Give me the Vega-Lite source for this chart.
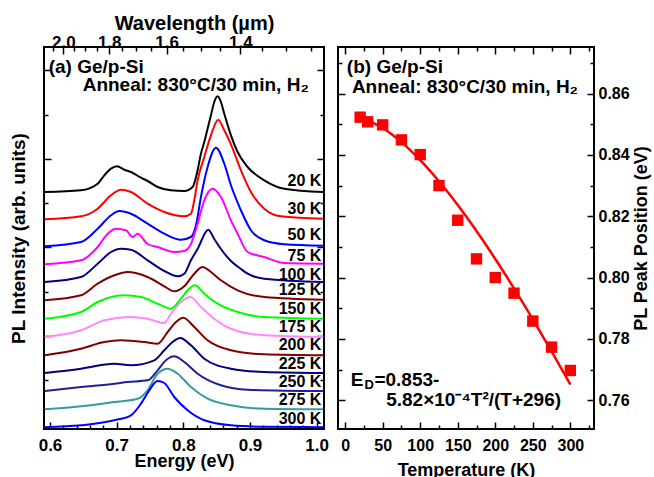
{
  "$schema": "https://vega.github.io/schema/vega-lite/v6.json",
  "padding": {"left": 8, "top": 12, "right": 0, "bottom": 0},
  "background": "white",
  "config": {
    "font": "Liberation Sans",
    "view": {"stroke": "black", "strokeWidth": 2},
    "axis": {"labelFont": "Liberation Sans", "labelFontWeight": "bold", "labelFontSize": 17, "labelColor": "black", "titleFont": "Liberation Sans", "titleFontWeight": "bold", "titleFontSize": 18, "titleColor": "black", "tickColor": "black", "tickWidth": 1.5, "domain": false, "grid": false},
    "text": {"font": "Liberation Sans", "fontWeight": "bold", "color": "black"}
  },
  "datasets": {
    "spectra": [
      {"s":"20 K","E":0.592,"v":237},{"s":"20 K","E":0.6465,"v":238.7},{"s":"20 K","E":0.6715,"v":245.3},{"s":"20 K","E":0.6815,"v":253.7},{"s":"20 K","E":0.6915,"v":260.3},{"s":"20 K","E":0.7004,"v":262.7},{"s":"20 K","E":0.7115,"v":259.3},{"s":"20 K","E":0.7214,"v":257},{"s":"20 K","E":0.7364,"v":251.3},{"s":"20 K","E":0.7464,"v":248},{"s":"20 K","E":0.7614,"v":242},{"s":"20 K","E":0.7814,"v":238.7},{"s":"20 K","E":0.8014,"v":238},{"s":"20 K","E":0.8139,"v":242},{"s":"20 K","E":0.8214,"v":258.7},{"s":"20 K","E":0.8264,"v":275.3},{"s":"20 K","E":0.8314,"v":287},{"s":"20 K","E":0.8364,"v":300.3},{"s":"20 K","E":0.8414,"v":313.7},{"s":"20 K","E":0.8464,"v":327},{"s":"20 K","E":0.8514,"v":332.7},{"s":"20 K","E":0.8564,"v":327},{"s":"20 K","E":0.8614,"v":315.3},{"s":"20 K","E":0.8714,"v":293.7},{"s":"20 K","E":0.8814,"v":277},{"s":"20 K","E":0.8964,"v":262},{"s":"20 K","E":0.9214,"v":248.7},{"s":"20 K","E":0.9513,"v":240.3},{"s":"20 K","E":1.010,"v":237},
      {"s":"30 K","E":0.592,"v":209.7},{"s":"30 K","E":0.6465,"v":212.7},{"s":"30 K","E":0.6715,"v":220.3},{"s":"30 K","E":0.6915,"v":233.7},{"s":"30 K","E":0.7065,"v":239.3},{"s":"30 K","E":0.7214,"v":237},{"s":"30 K","E":0.7464,"v":225.3},{"s":"30 K","E":0.7714,"v":217},{"s":"30 K","E":0.8014,"v":212.7},{"s":"30 K","E":0.8114,"v":215.3},{"s":"30 K","E":0.8164,"v":228.7},{"s":"30 K","E":0.8214,"v":248.7},{"s":"30 K","E":0.8314,"v":272},{"s":"30 K","E":0.8414,"v":293.7},{"s":"30 K","E":0.8524,"v":309.3},{"s":"30 K","E":0.8614,"v":298.7},{"s":"30 K","E":0.8714,"v":284.7},{"s":"30 K","E":0.8864,"v":258.7},{"s":"30 K","E":0.9014,"v":237},{"s":"30 K","E":0.9214,"v":220.3},{"s":"30 K","E":0.9463,"v":212.7},{"s":"30 K","E":1.010,"v":210.3},
      {"s":"50 K","E":0.592,"v":182.7},{"s":"50 K","E":0.6465,"v":187},{"s":"50 K","E":0.6715,"v":200.3},{"s":"50 K","E":0.6915,"v":213.7},{"s":"50 K","E":0.704,"v":218},{"s":"50 K","E":0.7214,"v":215.3},{"s":"50 K","E":0.7464,"v":205.3},{"s":"50 K","E":0.7714,"v":195.3},{"s":"50 K","E":0.7964,"v":189.3},{"s":"50 K","E":0.8114,"v":192},{"s":"50 K","E":0.8189,"v":203.7},{"s":"50 K","E":0.8264,"v":232},{"s":"50 K","E":0.8364,"v":262},{"s":"50 K","E":0.8489,"v":281.3},{"s":"50 K","E":0.8614,"v":265.3},{"s":"50 K","E":0.8714,"v":243.7},{"s":"50 K","E":0.8864,"v":218.7},{"s":"50 K","E":0.9014,"v":198.7},{"s":"50 K","E":0.9214,"v":188.7},{"s":"50 K","E":0.9513,"v":184.7},{"s":"50 K","E":1.010,"v":183.3},
      {"s":"75 K","E":0.592,"v":164.7},{"s":"75 K","E":0.6465,"v":168.7},{"s":"75 K","E":0.6715,"v":182},{"s":"75 K","E":0.6865,"v":195.3},{"s":"75 K","E":0.699,"v":200.3},{"s":"75 K","E":0.714,"v":198.7},{"s":"75 K","E":0.7239,"v":192},{"s":"75 K","E":0.7314,"v":195.3},{"s":"75 K","E":0.7464,"v":185},{"s":"75 K","E":0.7614,"v":182},{"s":"75 K","E":0.7864,"v":177},{"s":"75 K","E":0.8014,"v":178},{"s":"75 K","E":0.8114,"v":185},{"s":"75 K","E":0.8214,"v":205.3},{"s":"75 K","E":0.8314,"v":228.7},{"s":"75 K","E":0.8439,"v":240.3},{"s":"75 K","E":0.8564,"v":232},{"s":"75 K","E":0.8714,"v":208.7},{"s":"75 K","E":0.8814,"v":195.3},{"s":"75 K","E":0.8964,"v":177},{"s":"75 K","E":0.9214,"v":172},{"s":"75 K","E":0.9513,"v":166},{"s":"75 K","E":1.010,"v":165.3},
      {"s":"100 K","E":0.592,"v":147},{"s":"100 K","E":0.6465,"v":152},{"s":"100 K","E":0.6715,"v":165.3},{"s":"100 K","E":0.6915,"v":177},{"s":"100 K","E":0.7065,"v":180.3},{"s":"100 K","E":0.7214,"v":179.3},{"s":"100 K","E":0.7464,"v":168.7},{"s":"100 K","E":0.7714,"v":158},{"s":"100 K","E":0.7914,"v":152.7},{"s":"100 K","E":0.8014,"v":155.3},{"s":"100 K","E":0.8114,"v":168.7},{"s":"100 K","E":0.8214,"v":180},{"s":"100 K","E":0.8374,"v":199.3},{"s":"100 K","E":0.8464,"v":190},{"s":"100 K","E":0.8564,"v":180},{"s":"100 K","E":0.8714,"v":168},{"s":"100 K","E":0.8864,"v":160},{"s":"100 K","E":0.8964,"v":155.3},{"s":"100 K","E":0.9214,"v":150.3},{"s":"100 K","E":1.010,"v":147},
      {"s":"125 K","E":0.592,"v":128.7},{"s":"125 K","E":0.6465,"v":133.7},{"s":"125 K","E":0.6715,"v":145.3},{"s":"125 K","E":0.6965,"v":153.7},{"s":"125 K","E":0.7164,"v":157},{"s":"125 K","E":0.7464,"v":152},{"s":"125 K","E":0.7714,"v":142.7},{"s":"125 K","E":0.7864,"v":137.7},{"s":"125 K","E":0.8014,"v":142.7},{"s":"125 K","E":0.8164,"v":155.3},{"s":"125 K","E":0.8289,"v":162},{"s":"125 K","E":0.8414,"v":157},{"s":"125 K","E":0.8564,"v":148.7},{"s":"125 K","E":0.8814,"v":138.7},{"s":"125 K","E":0.9214,"v":132},{"s":"125 K","E":1.010,"v":129.3},
      {"s":"150 K","E":0.592,"v":110.3},{"s":"150 K","E":0.6465,"v":117},{"s":"150 K","E":0.6715,"v":127},{"s":"150 K","E":0.6965,"v":132.7},{"s":"150 K","E":0.7115,"v":133.7},{"s":"150 K","E":0.7364,"v":132},{"s":"150 K","E":0.7614,"v":125.3},{"s":"150 K","E":0.7814,"v":120.3},{"s":"150 K","E":0.7964,"v":130.3},{"s":"150 K","E":0.8064,"v":138.7},{"s":"150 K","E":0.8174,"v":143.7},{"s":"150 K","E":0.8314,"v":135.3},{"s":"150 K","E":0.8514,"v":125.3},{"s":"150 K","E":0.8814,"v":117},{"s":"150 K","E":0.9214,"v":112},{"s":"150 K","E":1.010,"v":110.3},
      {"s":"175 K","E":0.592,"v":92},{"s":"175 K","E":0.6465,"v":98.7},{"s":"175 K","E":0.6815,"v":108.7},{"s":"175 K","E":0.7214,"v":112},{"s":"175 K","E":0.7464,"v":110.3},{"s":"175 K","E":0.7714,"v":106},{"s":"175 K","E":0.7814,"v":115.3},{"s":"175 K","E":0.7964,"v":127},{"s":"175 K","E":0.8104,"v":132},{"s":"175 K","E":0.8264,"v":122},{"s":"175 K","E":0.8464,"v":110.3},{"s":"175 K","E":0.8714,"v":100.3},{"s":"175 K","E":0.9214,"v":93.7},{"s":"175 K","E":1.010,"v":92},
      {"s":"200 K","E":0.592,"v":73.7},{"s":"200 K","E":0.6465,"v":80.3},{"s":"200 K","E":0.6815,"v":87},{"s":"200 K","E":0.7065,"v":88.7},{"s":"200 K","E":0.7414,"v":87},{"s":"200 K","E":0.7614,"v":85.3},{"s":"200 K","E":0.7764,"v":97},{"s":"200 K","E":0.7889,"v":107},{"s":"200 K","E":0.7999,"v":111.3},{"s":"200 K","E":0.8164,"v":102},{"s":"200 K","E":0.8364,"v":88.7},{"s":"200 K","E":0.8714,"v":78.7},{"s":"200 K","E":0.9214,"v":74.7},{"s":"200 K","E":1.010,"v":73.7},
      {"s":"225 K","E":0.592,"v":56},{"s":"225 K","E":0.6465,"v":60.3},{"s":"225 K","E":0.6965,"v":65.3},{"s":"225 K","E":0.7214,"v":63.7},{"s":"225 K","E":0.7564,"v":68.7},{"s":"225 K","E":0.7714,"v":78.7},{"s":"225 K","E":0.7839,"v":87},{"s":"225 K","E":0.7954,"v":91},{"s":"225 K","E":0.8114,"v":83.7},{"s":"225 K","E":0.8314,"v":70.3},{"s":"225 K","E":0.8714,"v":60.3},{"s":"225 K","E":0.9214,"v":57},{"s":"225 K","E":1.010,"v":56},
      {"s":"250 K","E":0.592,"v":38},{"s":"250 K","E":0.6465,"v":42},{"s":"250 K","E":0.6965,"v":45.3},{"s":"250 K","E":0.7164,"v":47},{"s":"250 K","E":0.7464,"v":48.7},{"s":"250 K","E":0.7614,"v":58.7},{"s":"250 K","E":0.7739,"v":68.7},{"s":"250 K","E":0.7864,"v":72.7},{"s":"250 K","E":0.8014,"v":67},{"s":"250 K","E":0.8214,"v":55.3},{"s":"250 K","E":0.8564,"v":43.7},{"s":"250 K","E":0.8964,"v":39.3},{"s":"250 K","E":1.010,"v":38},
      {"s":"275 K","E":0.592,"v":19.7},{"s":"275 K","E":0.6465,"v":22.7},{"s":"275 K","E":0.6965,"v":27},{"s":"275 K","E":0.7314,"v":30.3},{"s":"275 K","E":0.7464,"v":38.7},{"s":"275 K","E":0.7614,"v":55.3},{"s":"275 K","E":0.7764,"v":60.3},{"s":"275 K","E":0.7914,"v":55.3},{"s":"275 K","E":0.8114,"v":42},{"s":"275 K","E":0.8364,"v":30.3},{"s":"275 K","E":0.8714,"v":23.7},{"s":"275 K","E":0.9214,"v":20.3},{"s":"275 K","E":1.010,"v":19.7},
      {"s":"300 K","E":0.592,"v":1.8},{"s":"300 K","E":0.6465,"v":3.7},{"s":"300 K","E":0.6965,"v":8.7},{"s":"300 K","E":0.7214,"v":13.7},{"s":"300 K","E":0.7364,"v":25.3},{"s":"300 K","E":0.7489,"v":38.7},{"s":"300 K","E":0.7614,"v":48},{"s":"300 K","E":0.7714,"v":46},{"s":"300 K","E":0.7864,"v":32},{"s":"300 K","E":0.8064,"v":18.7},{"s":"300 K","E":0.8314,"v":8.7},{"s":"300 K","E":0.8714,"v":3.7},{"s":"300 K","E":0.9214,"v":2.2},{"s":"300 K","E":1.010,"v":1.8}
    ],
    "labels": [
      {"lab":"20 K","E":1.007,"v":248},{"lab":"30 K","E":1.007,"v":220.3},{"lab":"50 K","E":1.007,"v":193.7},{"lab":"75 K","E":1.007,"v":173},{"lab":"100 K","E":1.007,"v":153.7},{"lab":"125 K","E":1.007,"v":138.7},{"lab":"150 K","E":1.007,"v":120.3},{"lab":"175 K","E":1.007,"v":102},{"lab":"200 K","E":1.007,"v":83.7},{"lab":"225 K","E":1.007,"v":65.3},{"lab":"250 K","E":1.007,"v":47},{"lab":"275 K","E":1.007,"v":28.7},{"lab":"300 K","E":1.007,"v":10.3}
    ],
    "annA1": [{"t":"(a) Ge/p-Si","E":0.598,"v":362}],
    "annA2": [{"t":"Anneal: 830°C/30 min, H₂","E":0.649,"v":343.7}],
    "wl": [{"wl":1.4},{"wl":1.6},{"wl":1.8},{"wl":2.0}],
    "peak": [
      {"T":20,"E":0.8523},{"T":30,"E":0.8508},{"T":50,"E":0.8498},{"T":75,"E":0.8449},{"T":100,"E":0.8401},{"T":125,"E":0.8300},{"T":150,"E":0.8187},{"T":175,"E":0.8061},{"T":200,"E":0.8000},{"T":225,"E":0.7949},{"T":250,"E":0.7858},{"T":275,"E":0.7773},{"T":300,"E":0.7697}
    ],
    "fit": [
      {"T":20,"E":0.85226},{"T":50,"E":0.8488},{"T":75,"E":0.84418},{"T":100,"E":0.8383},{"T":125,"E":0.8314},{"T":150,"E":0.82364},{"T":175,"E":0.81516},{"T":200,"E":0.80606},{"T":225,"E":0.79645},{"T":250,"E":0.78638},{"T":275,"E":0.77592},{"T":300,"E":0.76511}
    ],
    "annB1": [{"t":"(b)  Ge/p-Si","T":2.3,"E":0.8687}],
    "annB2": [{"t":"Anneal: 830°C/30 min, H₂","T":9,"E":0.8622}],
    "eqE": [{"t":"E","T":7.6,"E":0.7665}],
    "eqD": [{"t":"D","T":25.7,"E":0.7649}],
    "eq1": [{"t":"=0.853-","T":39,"E":0.7665}],
    "eq2": [{"t":"5.82×10⁻⁴T²/(T+296)","T":54.7,"E":0.7600}]
  },
  "hconcat": [
    {
      "width": 280,
      "height": 382,
      "layer": [
        {
          "data": {"name": "spectra"},
          "mark": {"type": "line", "strokeWidth": 2, "interpolate": "monotone"},
          "encoding": {
            "x": {"field": "E", "type": "quantitative", "scale": {"domain": [0.591, 1.011], "zero": false, "nice": false},
                  "axis": {"orient": "bottom", "values": [0.6, 0.7, 0.8, 0.9, 1.0], "format": ".1f", "tickSize": -7, "labelPadding": 15, "title": "Energy (eV)", "titlePadding": -1}},
            "y": {"field": "v", "type": "quantitative", "scale": {"domain": [0, 382], "zero": false, "nice": false},
                  "axis": {"orient": "left", "values": [92.9, 181.5, 270.1, 358.7], "labels": false, "tickSize": -7, "title": "PL Intensity (arb. units)", "titlePadding": 15, "titleFontSize": 19}},
            "color": {"field": "s", "type": "nominal",
                      "scale": {"domain": ["20 K","30 K","50 K","75 K","100 K","125 K","150 K","175 K","200 K","225 K","250 K","275 K","300 K"],
                                "range": ["#000000","#ff0000","#0000ff","#ff00ff","#000080","#800000","#00ff00","#ff88ff","#800000","#000080","#1f1f99","#339c9c","#0000ff"]},
                      "legend": null}
          }
        },
        {
          "data": {"name": "labels"},
          "mark": {"type": "text", "align": "right", "baseline": "middle", "fontSize": 16},
          "encoding": {
            "x": {"field": "E", "type": "quantitative", "scale": {"domain": [0.591, 1.011], "zero": false, "nice": false},
                  "axis": {"orient": "bottom", "values": [0.62, 0.64, 0.66, 0.68, 0.72, 0.74, 0.76, 0.78, 0.82, 0.84, 0.86, 0.88, 0.92, 0.94, 0.96, 0.98], "labels": false, "tickSize": -4, "title": null}},
            "y": {"field": "v", "type": "quantitative", "scale": {"domain": [0, 382], "zero": false, "nice": false},
                  "axis": {"orient": "right", "values": [92.9, 181.5, 270.1, 358.7], "labels": false, "tickSize": -7, "title": null}},
            "text": {"field": "lab"}
          }
        },
        {
          "data": {"name": "annA1"},
          "mark": {"type": "text", "align": "left", "baseline": "middle", "fontSize": 19},
          "encoding": {
            "x": {"field": "E", "type": "quantitative", "scale": {"domain": [0.591, 1.011], "zero": false, "nice": false}, "axis": null},
            "y": {"field": "v", "type": "quantitative", "scale": {"domain": [0, 382], "zero": false, "nice": false},
                  "axis": {"orient": "left", "values": [48.6, 137.2, 225.8, 314.4], "labels": false, "tickSize": -4, "title": null}},
            "text": {"field": "t"}
          }
        },
        {
          "data": {"name": "annA2"},
          "mark": {"type": "text", "align": "left", "baseline": "middle", "fontSize": 19},
          "encoding": {
            "x": {"field": "E", "type": "quantitative", "scale": {"domain": [0.591, 1.011], "zero": false, "nice": false}, "axis": null},
            "y": {"field": "v", "type": "quantitative", "scale": {"domain": [0, 382], "zero": false, "nice": false},
                  "axis": {"orient": "right", "values": [48.6, 137.2, 225.8, 314.4], "labels": false, "tickSize": -4, "title": null}},
            "text": {"field": "t"}
          }
        },
        {
          "data": {"name": "wl"},
          "mark": {"type": "point", "opacity": 0},
          "encoding": {
            "x": {"field": "wl", "type": "quantitative", "scale": {"type": "pow", "exponent": -1, "domain": [2.0979, 1.2263], "zero": false, "nice": false},
                  "axis": {"orient": "top", "values": [1.4, 1.6, 1.8, 2.0], "format": ".1f", "tickSize": -7, "labelPadding": 3, "title": "Wavelength (µm)", "titleFontSize": 20, "titlePadding": 0, "titleX": 150}}
          }
        },
        {
          "data": {"name": "wl"},
          "mark": {"type": "point", "opacity": 0},
          "encoding": {
            "x": {"field": "wl", "type": "quantitative", "scale": {"type": "pow", "exponent": -1, "domain": [2.0979, 1.2263], "zero": false, "nice": false},
                  "axis": {"orient": "top", "values": [1.25, 1.3, 1.35, 1.45, 1.5, 1.55, 1.65, 1.7, 1.75, 1.85, 1.9, 1.95, 2.05], "labels": false, "tickSize": -4, "title": null}}
          }
        }
      ],
      "resolve": {"scale": {"x": "independent"}, "axis": {"x": "independent", "y": "independent"}}
    },
    {
      "width": 256,
      "height": 382,
      "layer": [
        {
          "data": {"name": "fit"},
          "mark": {"type": "line", "color": "#ff0000", "strokeWidth": 2.5, "interpolate": "monotone"},
          "encoding": {
            "x": {"field": "T", "type": "quantitative", "scale": {"domain": [-9.5, 331.5], "zero": false, "nice": false},
                  "axis": {"orient": "top", "values": [0, 50, 100, 150, 200, 250, 300], "labels": false, "tickSize": -7, "title": null}},
            "y": {"field": "E", "type": "quantitative", "scale": {"domain": [0.7506, 0.8752], "zero": false, "nice": false},
                  "axis": {"orient": "left", "values": [0.76, 0.78, 0.80, 0.82, 0.84, 0.86], "labels": false, "tickSize": -7, "title": null}}
          }
        },
        {
          "data": {"name": "peak"},
          "mark": {"type": "point", "shape": "square", "filled": true, "color": "#ff0000", "opacity": 1, "size": 130},
          "encoding": {
            "x": {"field": "T", "type": "quantitative", "scale": {"domain": [-9.5, 331.5], "zero": false, "nice": false},
                  "axis": {"orient": "bottom", "values": [0, 50, 100, 150, 200, 250, 300], "labelFontSize": 16, "tickSize": -7, "labelPadding": 15, "title": "Temperature (K)", "titlePadding": 8}},
            "y": {"field": "E", "type": "quantitative", "scale": {"domain": [0.7506, 0.8752], "zero": false, "nice": false},
                  "axis": {"orient": "right", "values": [0.76, 0.78, 0.80, 0.82, 0.84, 0.86], "format": ".2f", "labelFontSize": 16, "tickSize": -7, "labelPadding": 11, "title": "PL Peak Position (eV)", "titleAngle": 270, "titleBaseline": "top", "titlePadding": 3}}
          }
        },
        {
          "data": {"name": "annB1"},
          "mark": {"type": "text", "align": "left", "baseline": "middle", "fontSize": 19},
          "encoding": {
            "x": {"field": "T", "type": "quantitative", "scale": {"domain": [-9.5, 331.5], "zero": false, "nice": false},
                  "axis": {"orient": "bottom", "values": [25, 75, 125, 175, 225, 275, 325], "labels": false, "tickSize": -4, "title": null}},
            "y": {"field": "E", "type": "quantitative", "scale": {"domain": [0.7506, 0.8752], "zero": false, "nice": false},
                  "axis": {"orient": "right", "values": [0.77, 0.79, 0.81, 0.83, 0.85, 0.87], "labels": false, "tickSize": -4, "title": null}},
            "text": {"field": "t"}
          }
        },
        {
          "data": {"name": "annB2"},
          "mark": {"type": "text", "align": "left", "baseline": "middle", "fontSize": 19},
          "encoding": {
            "x": {"field": "T", "type": "quantitative", "scale": {"domain": [-9.5, 331.5], "zero": false, "nice": false},
                  "axis": {"orient": "top", "values": [25, 75, 125, 175, 225, 275, 325], "labels": false, "tickSize": -4, "title": null}},
            "y": {"field": "E", "type": "quantitative", "scale": {"domain": [0.7506, 0.8752], "zero": false, "nice": false},
                  "axis": {"orient": "left", "values": [0.77, 0.79, 0.81, 0.83, 0.85, 0.87], "labels": false, "tickSize": -4, "title": null}},
            "text": {"field": "t"}
          }
        },
        {
          "data": {"name": "eqE"},
          "mark": {"type": "text", "align": "left", "baseline": "middle", "fontSize": 19},
          "encoding": {
            "x": {"field": "T", "type": "quantitative", "scale": {"domain": [-9.5, 331.5], "zero": false, "nice": false}, "axis": null},
            "y": {"field": "E", "type": "quantitative", "scale": {"domain": [0.7506, 0.8752], "zero": false, "nice": false}, "axis": null},
            "text": {"field": "t"}
          }
        },
        {
          "data": {"name": "eqD"},
          "mark": {"type": "text", "align": "left", "baseline": "middle", "fontSize": 13},
          "encoding": {
            "x": {"field": "T", "type": "quantitative", "scale": {"domain": [-9.5, 331.5], "zero": false, "nice": false}, "axis": null},
            "y": {"field": "E", "type": "quantitative", "scale": {"domain": [0.7506, 0.8752], "zero": false, "nice": false}, "axis": null},
            "text": {"field": "t"}
          }
        },
        {
          "data": {"name": "eq1"},
          "mark": {"type": "text", "align": "left", "baseline": "middle", "fontSize": 19},
          "encoding": {
            "x": {"field": "T", "type": "quantitative", "scale": {"domain": [-9.5, 331.5], "zero": false, "nice": false}, "axis": null},
            "y": {"field": "E", "type": "quantitative", "scale": {"domain": [0.7506, 0.8752], "zero": false, "nice": false}, "axis": null},
            "text": {"field": "t"}
          }
        },
        {
          "data": {"name": "eq2"},
          "mark": {"type": "text", "align": "left", "baseline": "middle", "fontSize": 19},
          "encoding": {
            "x": {"field": "T", "type": "quantitative", "scale": {"domain": [-9.5, 331.5], "zero": false, "nice": false}, "axis": null},
            "y": {"field": "E", "type": "quantitative", "scale": {"domain": [0.7506, 0.8752], "zero": false, "nice": false}, "axis": null},
            "text": {"field": "t"}
          }
        }
      ],
      "resolve": {"axis": {"x": "independent", "y": "independent"}}
    }
  ],
  "spacing": 14,
  "bounds": "flush"
}
